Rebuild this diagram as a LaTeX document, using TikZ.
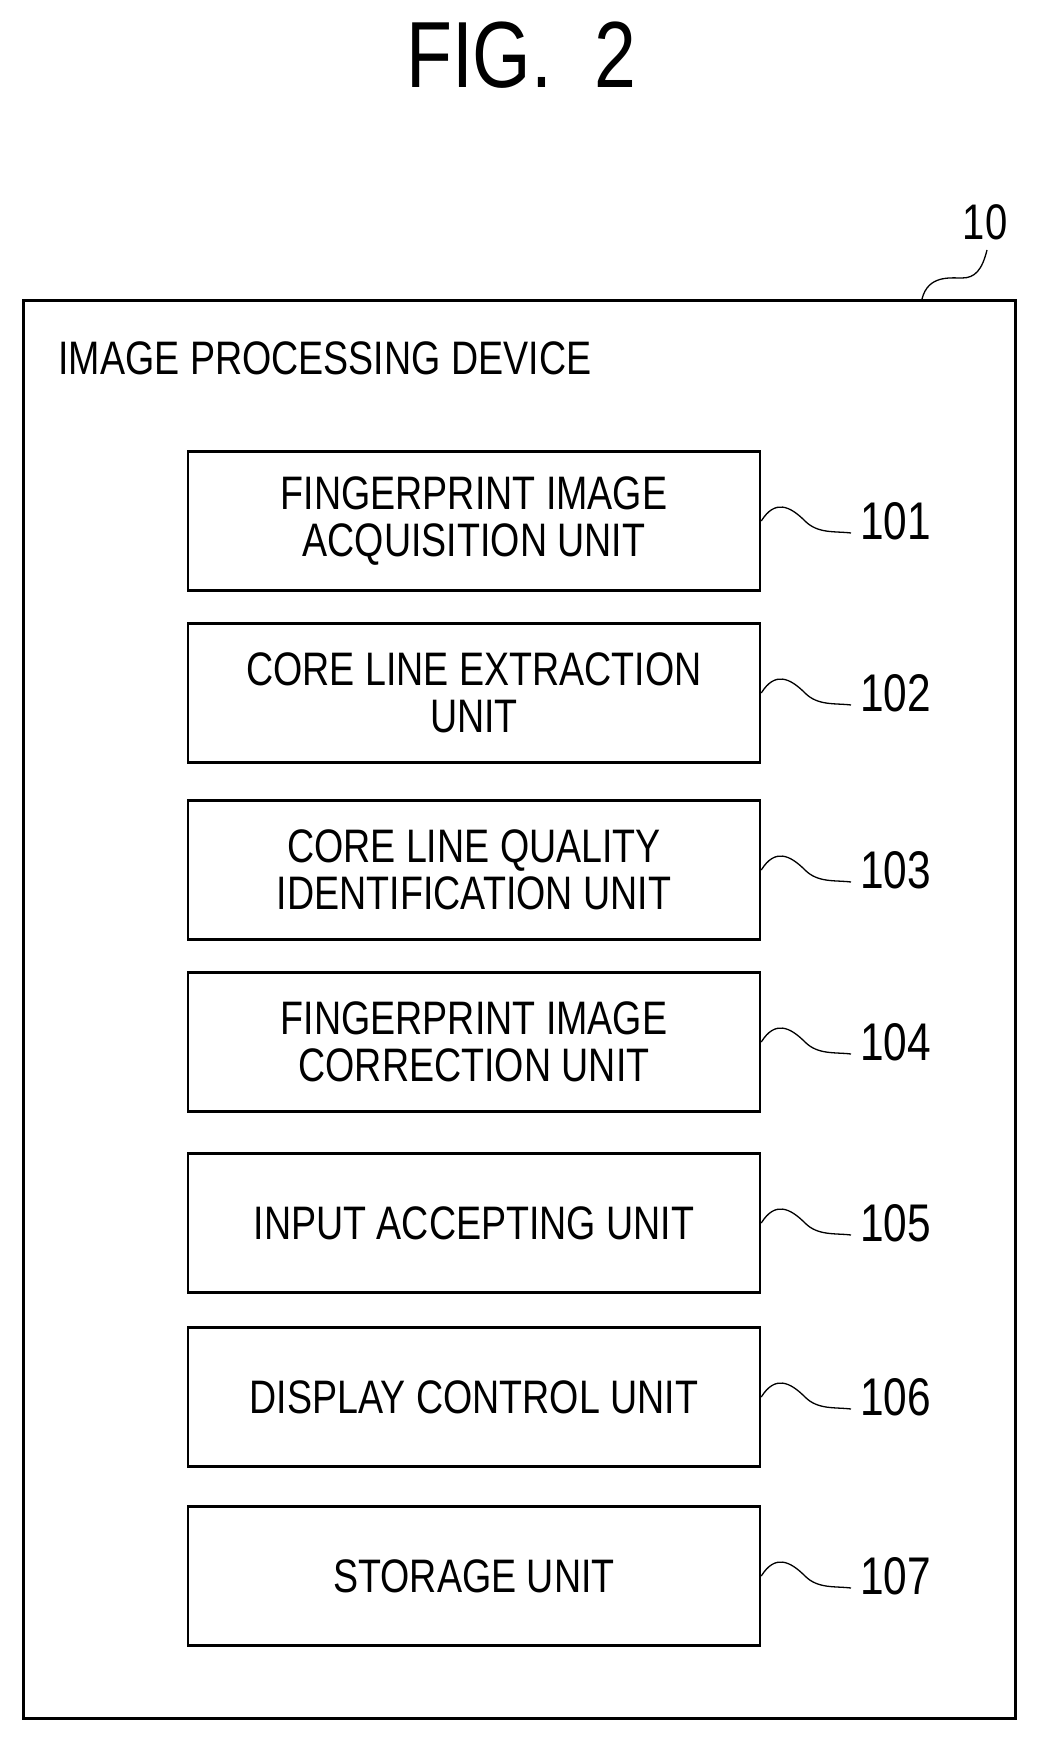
\documentclass[tikz,border=0pt]{standalone}
\usepackage{fontspec}
\setmainfont{Liberation Sans}[FakeStretch=0.8]
\begin{document}
\begin{tikzpicture}[x=1pt,y=-1pt,
  box/.style={draw,line width=2.5pt,minimum width=572pt,minimum height=139pt,align=center,font=\fontsize{47}{47}\selectfont,inner sep=0pt},
  num/.style={font=\fontsize{53}{56}\selectfont,anchor=west,inner sep=9pt},
  sq/.style={line width=1.3pt}]
\useasboundingbox (0,0) rectangle (1036,1739);
\node[font=\fontsize{94}{96}\selectfont] (title) at (521,55) {FIG.\ \ 2};
\node[draw,line width=2.5pt,minimum width=992pt,minimum height=1418pt,anchor=north west,inner sep=0pt] (dev) at (22,299) {};
\node[anchor=west,font=\fontsize{47}{47}\selectfont] (devl) at (55,358) {IMAGE PROCESSING DEVICE};
\node[font=\fontsize{50}{52}\selectfont] (n10) at (985,222) {10};
\coordinate (d10) at (922,299);
\draw[sq] (d10) .. controls (928,275) and (950,278) .. (962,278) .. controls (975,278) and (982,270) .. (987,250);
\foreach \i/\y/\t in {1/521/{FINGERPRINT IMAGE\\ACQUISITION UNIT},2/693/{CORE LINE EXTRACTION\\UNIT},3/870/{CORE LINE QUALITY\\IDENTIFICATION UNIT},4/1042/{FINGERPRINT IMAGE\\CORRECTION UNIT},5/1223/{INPUT ACCEPTING UNIT},6/1397/{DISPLAY CONTROL UNIT},7/1576/{STORAGE UNIT}}{
  \node[box] (b\i) at (474,\y) {\t};
  \node[num] (n\i) at (851,\y) {10\i};
  \draw[sq] (b\i.east) .. controls (775,\y-22) and (790,\y-15) .. (805,\y) .. controls (818,\y+13) and (835,\y+10) .. ([yshift=-12pt]n\i.west);
}
\end{tikzpicture}
\end{document}
